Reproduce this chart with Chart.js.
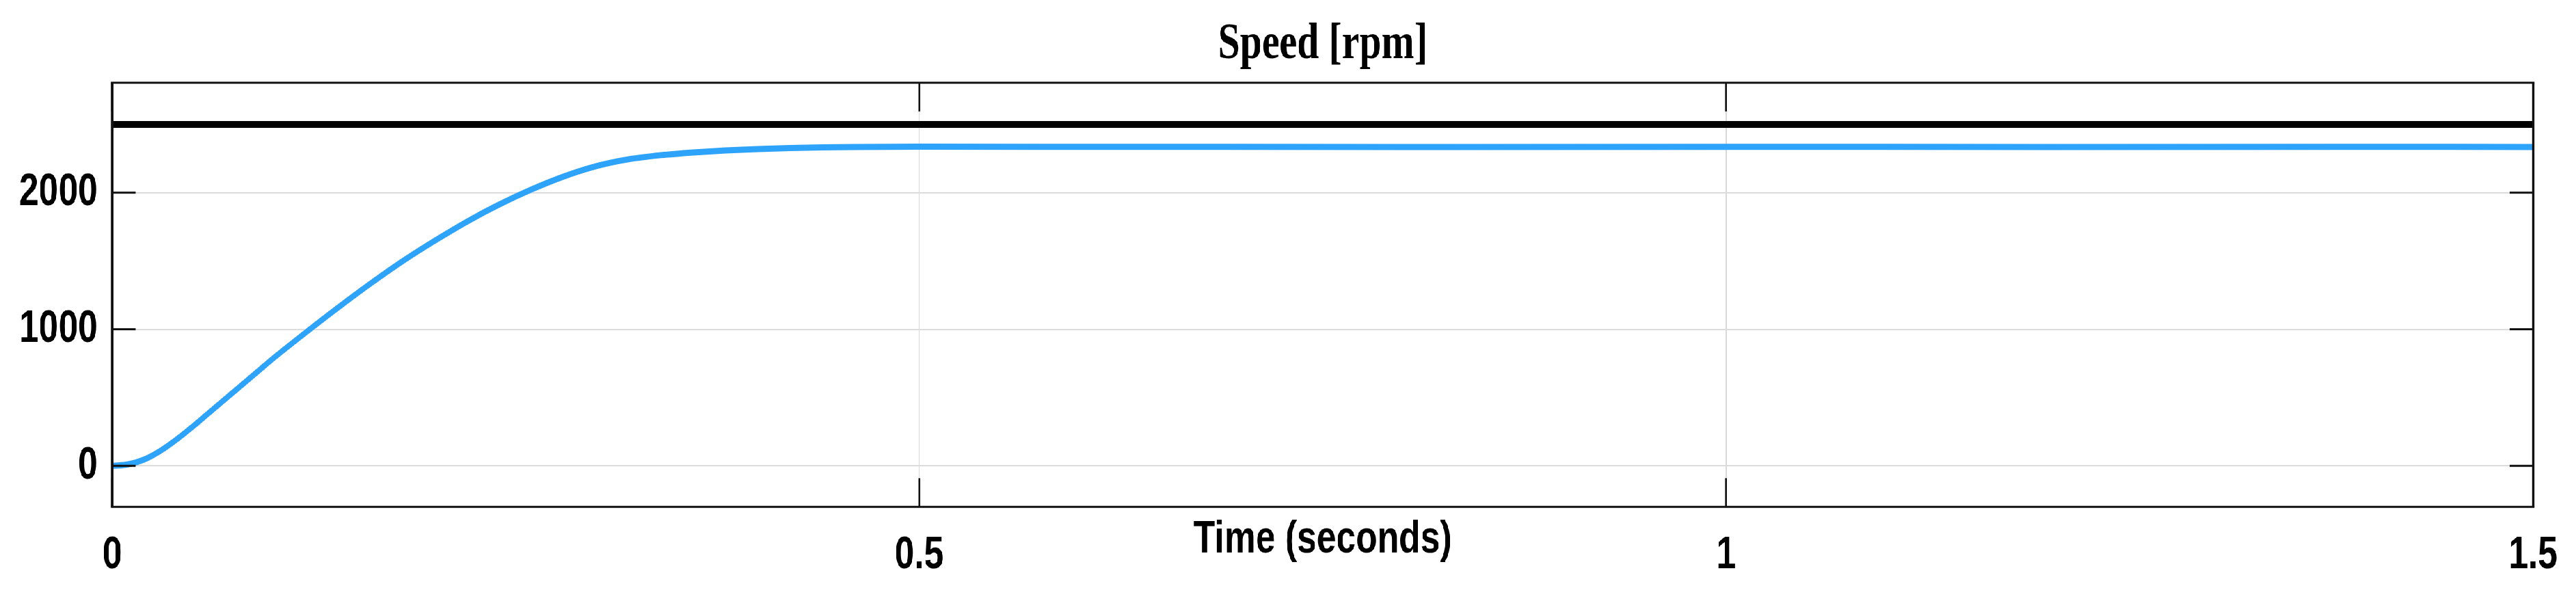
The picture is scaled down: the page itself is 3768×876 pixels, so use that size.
<!DOCTYPE html>
<html>
<head>
<meta charset="utf-8">
<script src="https://cdn.jsdelivr.net/npm/chart.js@4.4.1/dist/chart.umd.min.js"></script>
<style>
html,body{margin:0;padding:0;background:#fff;overflow:hidden;width:3768px;height:876px;}
#wrap{width:4894px;height:876px;transform:scaleX(0.77);transform-origin:0 0;background:#fff;}
canvas{display:block;}
</style>
</head>
<body>
<div id="wrap"><canvas id="c" width="4894" height="876" style="width:4894px;height:876px"></canvas></div>
<script>
// ---- data ----
const chartTitle = 'Speed [rpm]';
const xTitle = 'Time (seconds)';
const timeS = [0, 0.01, 0.02, 0.03, 0.04, 0.05, 0.06, 0.07, 0.08, 0.09, 0.10, 0.12, 0.14, 0.16, 0.18, 0.20, 0.22, 0.24, 0.26, 0.28, 0.30, 0.32, 0.34, 0.36, 0.38, 0.40, 0.42, 0.44, 0.46, 0.50, 0.60, 0.80, 1.00, 1.20, 1.40, 1.50];
const speedRpm = [0, 12, 48, 112, 195, 290, 390, 490, 590, 690, 790, 978, 1160, 1335, 1500, 1650, 1790, 1915, 2025, 2120, 2195, 2245, 2275, 2295, 2310, 2320, 2327, 2332, 2335, 2337, 2336, 2335, 2336, 2335, 2336, 2335];
const refTime = [0, 1.5];
const refRpm = [2500, 2500];
const xTicks = [0, 0.5, 1, 1.5];
const xTickLabels = ['0', '0.5', '1', '1.5'];
const yTicks = [0, 1000, 2000];
const yTickLabels = ['0', '1000', '2000'];

const SANS = "'Liberation Sans', Arial, sans-serif";
const SERIF = "'Liberation Serif', 'Times New Roman', serif";

const framePlugin = {
  id: 'frame',
  afterDatasetsDraw(chart) {
    const {ctx, chartArea: a, scales} = chart;
    const x = scales.x, y = scales.y;
    const seg = (x1, y1, x2, y2) => { ctx.beginPath(); ctx.moveTo(x1, y1); ctx.lineTo(x2, y2); ctx.stroke(); };
    ctx.save();
    ctx.strokeStyle = '#111';
    ctx.lineCap = 'butt';
    ctx.lineWidth = 3;
    yTicks.forEach(v => {
      const py = y.getPixelForValue(v);
      seg(a.left, py, a.left + 44, py);
      seg(a.right - 44, py, a.right, py);
    });
    ctx.lineWidth = 3.6;
    xTicks.forEach(v => {
      const px = x.getPixelForValue(v);
      seg(px, a.top, px, a.top + 42);
      seg(px, a.bottom - 42, px, a.bottom);
    });
    ctx.lineWidth = 3;
    seg(a.left - 2.2, a.top, a.right + 2.2, a.top);
    seg(a.left - 2.2, a.bottom, a.right + 2.2, a.bottom);
    ctx.lineWidth = 4.4;
    seg(a.left, a.top, a.left, a.bottom);
    seg(a.right, a.top, a.right, a.bottom);
    ctx.restore();
  }
};

new Chart(document.getElementById('c'), {
  type: 'line',
  data: {
    datasets: [
      {
        data: timeS.map((t, i) => ({x: t, y: speedRpm[i]})),
        borderColor: '#2ea3fb',
        borderWidth: 9,
        pointRadius: 0,
        cubicInterpolationMode: 'monotone',
        fill: false
      },
      {
        data: refTime.map((t, i) => ({x: t, y: refRpm[i]})),
        borderColor: '#000',
        borderWidth: 10,
        pointRadius: 0,
        fill: false
      }
    ]
  },
  options: {
    responsive: false,
    devicePixelRatio: 1,
    animation: false,
    events: [],
    layout: {padding: {left: 0, right: 82, top: 0, bottom: 0}},
    plugins: {
      legend: {display: false},
      tooltip: {enabled: false},
      title: {
        display: true,
        fullSize: false,
        text: chartTitle,
        color: '#000',
        font: {family: SERIF, size: 75, weight: 'bold', lineHeight: 1.2},
        padding: {top: 21, bottom: 10}
      }
    },
    scales: {
      x: {
        type: 'linear',
        min: 0,
        max: 1.5,
        afterBuildTicks: s => { s.ticks = xTicks.map(v => ({value: v})); },
        afterFit: s => { s.height = 134.7; },
        ticks: {
          autoSkip: false,
          maxRotation: 0,
          padding: 31,
          color: '#000',
          font: {family: SANS, size: 67, weight: 'bold'},
          callback: (v, i) => xTickLabels[i]
        },
        grid: {color: '#d8d8d8', lineWidth: 2, drawTicks: false},
        border: {display: false},
        title: {
          display: true,
          text: xTitle,
          color: '#000',
          font: {family: SANS, size: 67, weight: 'bold'},
          padding: {top: 0, bottom: 46}
        }
      },
      y: {
        type: 'linear',
        min: -300,
        max: 2805,
        afterBuildTicks: s => { s.ticks = yTicks.map(v => ({value: v})); },
        afterFit: s => { s.width = 213.4; },
        ticks: {
          autoSkip: false,
          padding: 28,
          color: '#000',
          font: {family: SANS, size: 67, weight: 'bold'},
          callback: (v, i) => yTickLabels[i]
        },
        grid: {color: '#dcdcdc', lineWidth: 2, drawTicks: false},
        border: {display: false}
      }
    }
  },
  plugins: [framePlugin]
});
</script>
</body>
</html>
